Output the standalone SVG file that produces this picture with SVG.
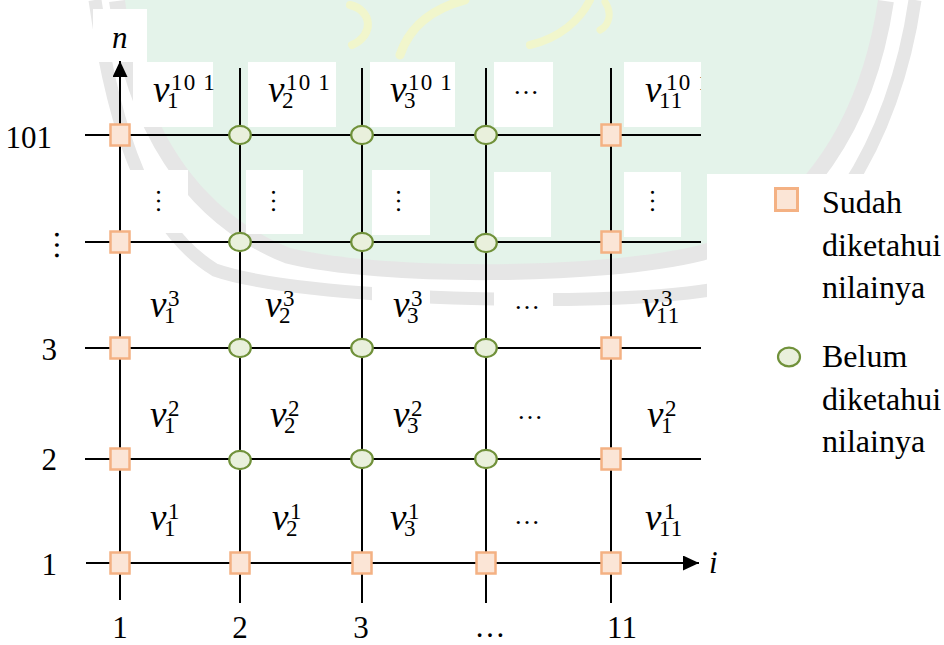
<svg xmlns="http://www.w3.org/2000/svg" width="944" height="645" viewBox="0 0 944 645">
<defs>
<style>
.grid{stroke:#000;stroke-width:2;fill:none}
.sq{fill:#fbe5d6;stroke:#f4b183;stroke-width:2.5}
.ci{fill:#e9f0dc;stroke:#70913a;stroke-width:2.2}
.box{fill:#fff}
.num{font-family:"Liberation Serif","Times New Roman",serif;font-size:31px;fill:#000}
.leg{font-family:"Liberation Serif","Times New Roman",serif;font-size:32px;fill:#000}
.ax{font-family:"Liberation Serif","Times New Roman",serif;font-size:31px;font-style:italic;fill:#000}
.lab{font-family:"Liberation Serif","Times New Roman",serif;fill:#000}
.vv{font-size:37px;font-style:italic}
.dg{font-size:23px;letter-spacing:1.2px}
.el{font-family:"Liberation Serif","Times New Roman",serif;font-size:26px;fill:#000;text-anchor:middle}
.band{fill:none;stroke:#e6e6e6}
.yl{fill:none;stroke:#f1f6cc;stroke-linecap:round}
</style>
<marker id="ah" markerUnits="userSpaceOnUse" markerWidth="17" markerHeight="15" refX="16" refY="7.5" orient="auto">
<path d="M0,0 L16,7.5 L0,15 Z" fill="#000"/>
</marker>
<clipPath id="c11"><rect x="624" y="62" width="77" height="65"/></clipPath>
</defs>
<rect width="944" height="645" fill="#fff"/>
<g id="watermark">
<path class="band" stroke-width="13" d="M 95,0 C 115,140 150,230 215,270 C 300,300 600,308 710,290 C 820,270 895,140 915,0"/>
<path class="band" stroke-width="32" d="M 125,0 C 140,120 195,210 290,248 C 380,270 600,270 700,245 C 800,215 860,120 878,0"/>
<path d="M 125,0 C 140,120 195,210 290,248 C 380,270 600,270 700,245 C 800,215 860,120 878,0 Z" fill="#e4f3ea"/>
<path class="yl" stroke-width="9" d="M 400,55 C 410,25 435,8 465,0"/>
<path class="yl" stroke-width="8" d="M 350,5 C 372,10 375,35 352,45"/>
<path class="yl" stroke-width="8" d="M 530,45 C 560,38 580,20 590,0"/>
<path class="yl" stroke-width="7" d="M 605,2 C 612,12 610,25 600,30"/>
</g>
<g id="label-boxes">
<rect class="box" x="93" y="9" width="54" height="53"/>
<rect class="box" x="133" y="62" width="80" height="65"/>
<rect class="box" x="248" y="62" width="88" height="65"/>
<rect class="box" x="370" y="62" width="85" height="65"/>
<rect class="box" x="494" y="62" width="59" height="65"/>
<rect class="box" x="624" y="62" width="77" height="65"/>
<rect class="box" x="130" y="170" width="58" height="63"/>
<rect class="box" x="246" y="170" width="57" height="64"/>
<rect class="box" x="372" y="170" width="58" height="65"/>
<rect class="box" x="494" y="172" width="57" height="65"/>
<rect class="box" x="624" y="172" width="57" height="65"/>
<rect class="box" x="372" y="280" width="58" height="62"/>
<rect class="box" x="494" y="280" width="59" height="62"/>
<rect class="box" x="707" y="174" width="237" height="471"/>
</g>
<g id="connectors">
<line class="grid" x1="120" y1="600" x2="120" y2="61" marker-end="url(#ah)"/>
<line class="grid" x1="240" y1="68" x2="240" y2="603"/>
<line class="grid" x1="362" y1="68" x2="362" y2="603"/>
<line class="grid" x1="486" y1="68" x2="486" y2="603"/>
<line class="grid" x1="611" y1="68" x2="611" y2="603"/>
<line class="grid" x1="85" y1="135" x2="701" y2="135"/>
<line class="grid" x1="85" y1="242" x2="701" y2="242"/>
<line class="grid" x1="85" y1="348" x2="701" y2="348"/>
<line class="grid" x1="85" y1="459" x2="701" y2="459"/>
<line class="grid" x1="86" y1="563" x2="699" y2="563" marker-end="url(#ah)"/>
</g>
<g id="nodes">
<g id="row101">
<rect class="sq" x="110.5" y="124.5" width="19" height="21"/>
<ellipse class="ci" cx="240" cy="135" rx="10.8" ry="9.2"/>
<ellipse class="ci" cx="362" cy="135" rx="10.8" ry="9.2"/>
<ellipse class="ci" cx="486" cy="135" rx="10.8" ry="9.2"/>
<rect class="sq" x="601.5" y="124.5" width="19" height="21"/>
</g>
<g id="rowdots">
<rect class="sq" x="110.5" y="231.5" width="19" height="21"/>
<ellipse class="ci" cx="240" cy="242" rx="10.8" ry="9.2"/>
<ellipse class="ci" cx="362" cy="242" rx="10.8" ry="9.2"/>
<ellipse class="ci" cx="486" cy="243" rx="10.8" ry="9.2"/>
<rect class="sq" x="601.5" y="231.5" width="19" height="21"/>
</g>
<g id="row3">
<rect class="sq" x="110.5" y="337.5" width="19" height="21"/>
<ellipse class="ci" cx="240" cy="348" rx="10.8" ry="9.2"/>
<ellipse class="ci" cx="362" cy="348" rx="10.8" ry="9.2"/>
<ellipse class="ci" cx="486" cy="348" rx="10.8" ry="9.2"/>
<rect class="sq" x="601.5" y="337.5" width="19" height="21"/>
</g>
<g id="row2">
<rect class="sq" x="110.5" y="448.5" width="19" height="21"/>
<ellipse class="ci" cx="240" cy="460" rx="10.8" ry="9.2"/>
<ellipse class="ci" cx="362" cy="459" rx="10.8" ry="9.2"/>
<ellipse class="ci" cx="486" cy="459" rx="10.8" ry="9.2"/>
<rect class="sq" x="601.5" y="448.5" width="19" height="21"/>
</g>
<g id="row1">
<rect class="sq" x="110.5" y="552.5" width="19" height="21"/>
<rect class="sq" x="230.5" y="552.5" width="19" height="21"/>
<rect class="sq" x="352.5" y="552.5" width="19" height="21"/>
<rect class="sq" x="476.5" y="552.5" width="19" height="21"/>
<rect class="sq" x="601.5" y="552.5" width="19" height="21"/>
</g>
</g>
<g id="axis-labels">
<text class="ax" x="112" y="48">n</text>
<text class="ax" x="709" y="573">i</text>
<text class="num" x="52" y="148" text-anchor="end">101</text>
<text class="num" transform="translate(54.5,245) rotate(90)" text-anchor="middle">…</text>
<text class="num" x="57" y="360" text-anchor="end">3</text>
<text class="num" x="57" y="470" text-anchor="end">2</text>
<text class="num" x="57" y="575" text-anchor="end">1</text>
<text class="num" x="120" y="638" text-anchor="middle">1</text>
<text class="num" x="240" y="638" text-anchor="middle">2</text>
<text class="num" x="361" y="638" text-anchor="middle">3</text>
<text class="num" x="490" y="637" text-anchor="middle">…</text>
<text class="num" x="622" y="638" text-anchor="middle">11</text>
</g>
<g id="cell-labels">
<text class="lab"><tspan class="vv" x="153" y="102">v</tspan><tspan class="dg" x="167" y="108">1</tspan><tspan class="dg" x="171" y="90">10 1</tspan></text>
<text class="lab"><tspan class="vv" x="268" y="102">v</tspan><tspan class="dg" x="282" y="108">2</tspan><tspan class="dg" x="286" y="90">10 1</tspan></text>
<text class="lab"><tspan class="vv" x="390" y="102">v</tspan><tspan class="dg" x="404" y="108">3</tspan><tspan class="dg" x="408" y="90">10 1</tspan></text>
<text class="el" x="526" y="94">…</text>
<text class="lab" clip-path="url(#c11)"><tspan class="vv" x="645" y="102">v</tspan><tspan class="dg" x="659" y="108">11</tspan><tspan class="dg" x="666" y="90">10 1</tspan></text>

<text class="el" transform="translate(156.5,201) rotate(90)">…</text>
<text class="el" transform="translate(271.5,201) rotate(90)">…</text>
<text class="el" transform="translate(396.5,201) rotate(90)">…</text>
<text class="el" transform="translate(650.5,201) rotate(90)">…</text>

<text class="lab"><tspan class="vv" x="150" y="317">v</tspan><tspan class="dg" x="164" y="323">1</tspan><tspan class="dg" x="168" y="306">3</tspan></text>
<text class="lab"><tspan class="vv" x="265" y="317">v</tspan><tspan class="dg" x="279" y="323">2</tspan><tspan class="dg" x="283" y="306">3</tspan></text>
<text class="lab"><tspan class="vv" x="393" y="317">v</tspan><tspan class="dg" x="407" y="323">3</tspan><tspan class="dg" x="411" y="306">3</tspan></text>
<text class="el" x="527" y="308.5">…</text>
<text class="lab"><tspan class="vv" x="642" y="317">v</tspan><tspan class="dg" x="656" y="323">11</tspan><tspan class="dg" x="661" y="306">3</tspan></text>

<text class="lab"><tspan class="vv" x="150" y="427">v</tspan><tspan class="dg" x="164" y="433">1</tspan><tspan class="dg" x="168" y="416">2</tspan></text>
<text class="lab"><tspan class="vv" x="270" y="427">v</tspan><tspan class="dg" x="284" y="433">2</tspan><tspan class="dg" x="288" y="416">2</tspan></text>
<text class="lab"><tspan class="vv" x="393" y="427">v</tspan><tspan class="dg" x="407" y="433">3</tspan><tspan class="dg" x="411" y="416">2</tspan></text>
<text class="el" x="530" y="418.5">…</text>
<text class="lab"><tspan class="vv" x="647" y="427">v</tspan><tspan class="dg" x="661" y="433">1</tspan><tspan class="dg" x="665" y="416">2</tspan></text>

<text class="lab"><tspan class="vv" x="150" y="530">v</tspan><tspan class="dg" x="164" y="536">1</tspan><tspan class="dg" x="168" y="519">1</tspan></text>
<text class="lab"><tspan class="vv" x="272" y="530">v</tspan><tspan class="dg" x="286" y="536">2</tspan><tspan class="dg" x="290" y="519">1</tspan></text>
<text class="lab"><tspan class="vv" x="390" y="530">v</tspan><tspan class="dg" x="404" y="536">3</tspan><tspan class="dg" x="408" y="519">1</tspan></text>
<text class="el" x="527" y="523.5">…</text>
<text class="lab"><tspan class="vv" x="645" y="530">v</tspan><tspan class="dg" x="659" y="536">11</tspan><tspan class="dg" x="664" y="519">1</tspan></text>
</g>
<g id="legend">
<g id="legend-known">
<rect x="775.5" y="188.5" width="22" height="22" fill="#fbe5d6" stroke="#f4b183" stroke-width="3"/>
<text class="leg" x="822" y="213">Sudah</text>
<text class="leg" x="822" y="256">diketahui</text>
<text class="leg" x="822" y="298">nilainya</text>
</g>
<g id="legend-unknown">
<ellipse cx="789" cy="357" rx="11" ry="9.3" fill="#e9f0dc" stroke="#70913a" stroke-width="2.2"/>
<text class="leg" x="822" y="367">Belum</text>
<text class="leg" x="822" y="410">diketahui</text>
<text class="leg" x="822" y="452">nilainya</text>
</g>
</g>
</svg>
